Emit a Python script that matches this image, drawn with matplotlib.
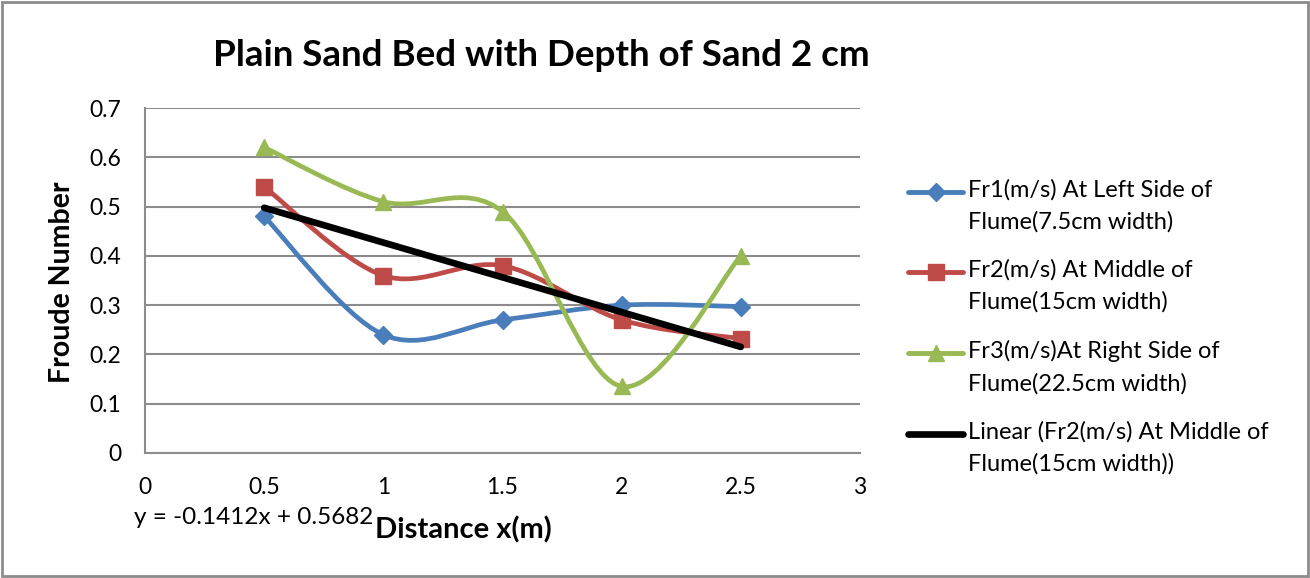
import numpy as np
import matplotlib
matplotlib.use("Agg")
import matplotlib.pyplot as plt
from matplotlib.lines import Line2D
from matplotlib.patches import Rectangle
from matplotlib.path import Path
from matplotlib.patches import PathPatch

plt.rcParams['font.family'] = ['Lato', 'DejaVu Sans']

distance = [0.5, 1.0, 1.5, 2.0, 2.5]
fr1 = [0.48, 0.24, 0.27, 0.30, 0.297]
fr2 = [0.54, 0.36, 0.38, 0.27, 0.232]
fr3 = [0.62, 0.51, 0.49, 0.135, 0.40]
labels = ["Fr1(m/s) At Left Side of\nFlume(7.5cm width)",
          "Fr2(m/s) At Middle of\nFlume(15cm width)",
          "Fr3(m/s)At Right Side of\nFlume(22.5cm width)",
          "Linear (Fr2(m/s) At Middle of\nFlume(15cm width))"]
title = "Plain Sand Bed with Depth of Sand 2 cm"
xticks = [0, 0.5, 1, 1.5, 2, 2.5, 3]
yticks = [0, 0.1, 0.2, 0.3, 0.4, 0.5, 0.6, 0.7]

colors = ['#4A7EBB', '#BE4B48', '#98B954', '#000000']
markers = ['D', 's', '^']
msizes = [9, 11, 12]


def smooth_path(x, y):
    # Excel-like smoothed line: cubic Bezier through points (Catmull-Rom, 1/6)
    P = np.column_stack([x, y]).astype(float)
    n = len(P)
    verts = [P[0]]
    codes = [Path.MOVETO]
    for i in range(n - 1):
        p0 = P[i - 1] if i > 0 else P[i]
        p1 = P[i]
        p2 = P[i + 1]
        p3 = P[i + 2] if i + 2 < n else P[i + 1]
        c1 = p1 + (p2 - p0) / 6.0
        c2 = p2 - (p3 - p1) / 6.0
        verts += [c1, c2, p2]
        codes += [Path.CURVE4] * 3
    return Path(verts, codes)


fig = plt.figure(figsize=(13.1, 5.78), dpi=100)
ax = fig.add_axes([0.1107, 0.2163, 0.5458, 0.5968])

for ys, c, m, ms in zip([fr1, fr2, fr3], colors, markers, msizes):
    ax.add_patch(PathPatch(smooth_path(distance, ys), facecolor='none',
                           edgecolor=c, lw=3.4, zorder=3, capstyle='round'))
    ax.plot(distance, ys, linestyle='none', marker=m, ms=ms, color=c,
            markeredgecolor=c, zorder=4)

slope, intercept = np.polyfit(distance, fr2, 1)
xl = np.array([distance[0], distance[-1]])
ax.plot(xl, slope * xl + intercept, color='black', lw=4.8, zorder=5,
        solid_capstyle='round')

ax.set_xlim(0, 3)
ax.set_ylim(0, 0.7)
ax.set_xticks(xticks)
ax.set_xticklabels([f"{t:g}" for t in xticks])
ax.set_yticks(yticks)
ax.set_yticklabels([f"{t:g}" for t in yticks])
ax.tick_params(axis='y', length=0, labelsize=16.5, pad=17)
ax.tick_params(axis='x', length=0, labelsize=16.5, pad=17)
ax.grid(axis='y', color='#8C8C8C', lw=1.5)
ax.set_axisbelow(True)
for s in ['top', 'right']:
    ax.spines[s].set_visible(False)
for s in ['left', 'bottom']:
    ax.spines[s].set_color('#8C8C8C')
    ax.spines[s].set_linewidth(1.5)

fig.text(62 / 1310, 1 - 282 / 578, "Froude Number", fontsize=20.5,
         fontweight='bold', ha='center', va='center', rotation=90)
fig.text(463 / 1310, 1 - 530 / 578, "Distance x(m)", fontsize=21,
         fontweight='bold', ha='center', va='center')
fig.text(254 / 1310, 1 - 518 / 578,
         f"y = {slope:.4f}x + {intercept:.4f}", fontsize=17.5,
         ha='center', va='center')
fig.text(541 / 1310, 1 - 55 / 578, title, fontsize=26.5, fontweight='bold',
         ha='center', va='center')

# legend drawn manually
ypos = [192, 272, 353, 434]
for i, (lab, c) in enumerate(zip(labels, colors)):
    yy = 1 - ypos[i] / 578
    fig.add_artist(Line2D([908 / 1310, 963 / 1310], [yy, yy], color=c,
                          lw=3.5 if i < 3 else 4.8, solid_capstyle='round'))
    if i < 3:
        fig.add_artist(Line2D([935.5 / 1310], [yy], marker=markers[i],
                              ms=msizes[i], color=c, markeredgecolor=c))
    fig.text(968 / 1310, yy + 13 / 578, lab, fontsize=17, ha='left', va='top',
             linespacing=1.6)

fig.add_artist(Rectangle((2 / 1310, 2 / 578), 1 - 4 / 1310, 1 - 4 / 578,
                         transform=fig.transFigure, fill=False,
                         edgecolor='#8C8C8C', lw=2))

fig.savefig("out.png", dpi=100)
